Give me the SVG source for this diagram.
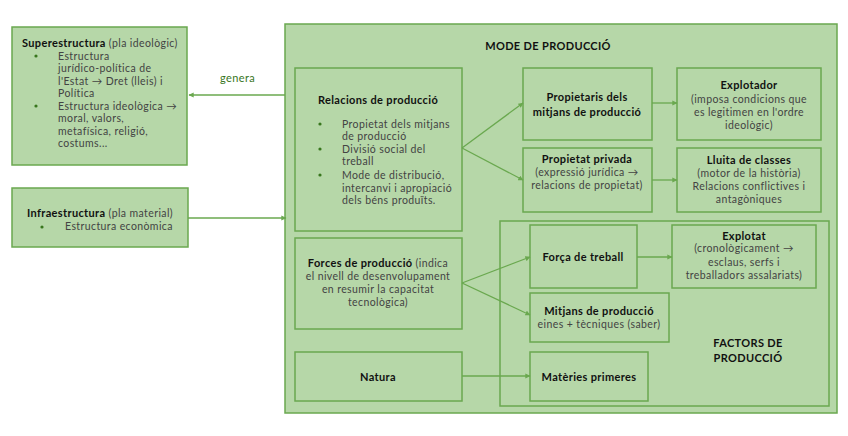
<svg xmlns="http://www.w3.org/2000/svg" width="848" height="436" viewBox="0 0 848 436">
<style>
.box{fill:#b6d7a8;stroke:#6aa84f;stroke-width:1.5}
.inner{fill:none;stroke:#6aa84f;stroke-width:1.5}
.ln{stroke:#6aa84f;stroke-width:1.3;fill:none}
text{font-family:Lato,"Open Sans",sans-serif;font-size:10.5px;fill:#434343;letter-spacing:0.4px}
.b{font-weight:bold;fill:#111}
.t{font-weight:bold;fill:#111;font-size:11px;letter-spacing:0.35px}
.c{text-anchor:middle}
.dot{fill:#38761d}
</style>
<defs>
<marker id="ar" viewBox="0 0 10 10" refX="9" refY="5" markerWidth="4" markerHeight="4" orient="auto"><path d="M0,0L10,5L0,10z" fill="#6aa84f"/></marker>
</defs>
<rect width="848" height="436" fill="#fff"/>
<g id="superestructura">
<rect class="box" x="12" y="27" width="175" height="138"/>
<text x="22" y="47"><tspan class="t">Superestructura</tspan> (pla ideològic)</text>
<circle class="dot" cx="36" cy="56" r="1.6"/>
<text x="58" y="60">Estructura</text>
<text x="58" y="72">jurídico-política de</text>
<text x="58" y="85">l'Estat → Dret (lleis) i</text>
<text x="58" y="97">Política</text>
<circle class="dot" cx="36" cy="106" r="1.6"/>
<text x="58" y="110">Estructura ideològica →</text>
<text x="58" y="122">moral, valors,</text>
<text x="58" y="135">metafísica, religió,</text>
<text x="58" y="147">costums...</text>
</g>
<g id="infraestructura">
<rect class="box" x="12" y="188" width="176" height="59"/>
<text x="27" y="217"><tspan class="t">Infraestructura</tspan> (pla material)</text>
<circle class="dot" cx="42" cy="227" r="1.6"/>
<text x="65" y="230">Estructura econòmica</text>
</g>
<g id="mode">
<rect class="box" x="285" y="24" width="552" height="389"/>
<text class="t c" x="548" y="50">MODE DE PRODUCCIÓ</text>
</g>
<g id="factors">
<rect class="inner" x="500" y="221" width="329" height="185"/>
<text class="t c" x="748" y="347">FACTORS DE</text>
<text class="t c" x="748" y="362">PRODUCCIÓ</text>
</g>
<g id="relacions">
<rect class="inner" x="295" y="68" width="167" height="163"/>
<text class="t" x="318" y="104">Relacions de producció</text>
<circle class="dot" cx="320" cy="124" r="1.6"/>
<text x="342" y="128">Propietat dels mitjans</text>
<text x="342" y="140">de producció</text>
<circle class="dot" cx="320" cy="149" r="1.6"/>
<text x="342" y="153">Divisió social del</text>
<text x="342" y="165">treball</text>
<circle class="dot" cx="320" cy="175" r="1.6"/>
<text x="342" y="179">Mode de distribució,</text>
<text x="342" y="192">intercanvi i apropiació</text>
<text x="342" y="204">dels béns produïts.</text>
</g>
<g id="forces">
<rect class="inner" x="295" y="238" width="167" height="91"/>
<text class="c" x="378" y="267"><tspan class="t">Forces de producció</tspan> (indica</text>
<text class="c" x="378" y="280">el nivell de desenvolupament</text>
<text class="c" x="378" y="293">en resumir la capacitat</text>
<text class="c" x="378" y="306">tecnològica)</text>
</g>
<g id="natura">
<rect class="inner" x="295" y="352" width="167" height="49"/>
<text class="t c" x="378" y="381">Natura</text>
</g>
<g id="propietaris">
<rect class="inner" x="523" y="68" width="129" height="72"/>
<text class="t c" x="587" y="101">Propietaris dels</text>
<text class="t c" x="587" y="116">mitjans de producció</text>
</g>
<g id="explotador">
<rect class="inner" x="677" y="68" width="144" height="72"/>
<text class="t c" x="749" y="89">Explotador</text>
<text class="c" x="749" y="103">(imposa condicions que</text>
<text class="c" x="749" y="116">es legitimen en l'ordre</text>
<text class="c" x="749" y="129">ideològic)</text>
</g>
<g id="propietat">
<rect class="inner" x="523" y="148" width="129" height="64"/>
<text class="t c" x="587" y="163">Propietat privada</text>
<text class="c" x="587" y="176">(expressió jurídica →</text>
<text class="c" x="587" y="189">relacions de propietat)</text>
</g>
<g id="lluita">
<rect class="inner" x="677" y="148" width="144" height="64"/>
<text class="t c" x="749" y="164">Lluita de classes</text>
<text class="c" x="749" y="177">(motor de la història)</text>
<text class="c" x="749" y="190">Relacions conflictives i</text>
<text class="c" x="749" y="203">antagòniques</text>
</g>
<g id="forca">
<rect class="inner" x="530" y="225" width="107" height="63"/>
<text class="t c" x="583" y="261">Força de treball</text>
</g>
<g id="explotat">
<rect class="inner" x="672" y="225" width="144" height="63"/>
<text class="t c" x="744" y="240">Explotat</text>
<text class="c" x="744" y="252">(cronològicament →</text>
<text class="c" x="744" y="266">esclaus, serfs i</text>
<text class="c" x="744" y="279">treballadors assalariats)</text>
</g>
<g id="mitjans">
<rect class="inner" x="530" y="293" width="139" height="49"/>
<text class="t c" x="599" y="315">Mitjans de producció</text>
<text class="c" x="599" y="328">eines + tècniques (saber)</text>
</g>
<g id="materies">
<rect class="inner" x="530" y="352" width="118" height="49"/>
<text class="t c" x="589" y="381">Matèries primeres</text>
</g>
<g id="connectors">
<line class="ln" x1="285" y1="95" x2="189" y2="95" marker-end="url(#ar)"/>
<text x="220" y="82" style="fill:#38761d;font-size:11px">genera</text>
<line class="ln" x1="188" y1="218" x2="286" y2="218" marker-end="url(#ar)"/>
<line class="ln" x1="462" y1="148" x2="523" y2="103" marker-end="url(#ar)"/>
<line class="ln" x1="462" y1="148" x2="523" y2="180" marker-end="url(#ar)"/>
<line class="ln" x1="652" y1="103" x2="677" y2="103" marker-end="url(#ar)"/>
<line class="ln" x1="652" y1="180" x2="677" y2="180" marker-end="url(#ar)"/>
<line class="ln" x1="462" y1="283" x2="530" y2="257" marker-end="url(#ar)"/>
<line class="ln" x1="462" y1="283" x2="530" y2="315" marker-end="url(#ar)"/>
<line class="ln" x1="637" y1="257" x2="672" y2="257" marker-end="url(#ar)"/>
<line class="ln" x1="462" y1="376" x2="530" y2="376" marker-end="url(#ar)"/>
</g>
</svg>
